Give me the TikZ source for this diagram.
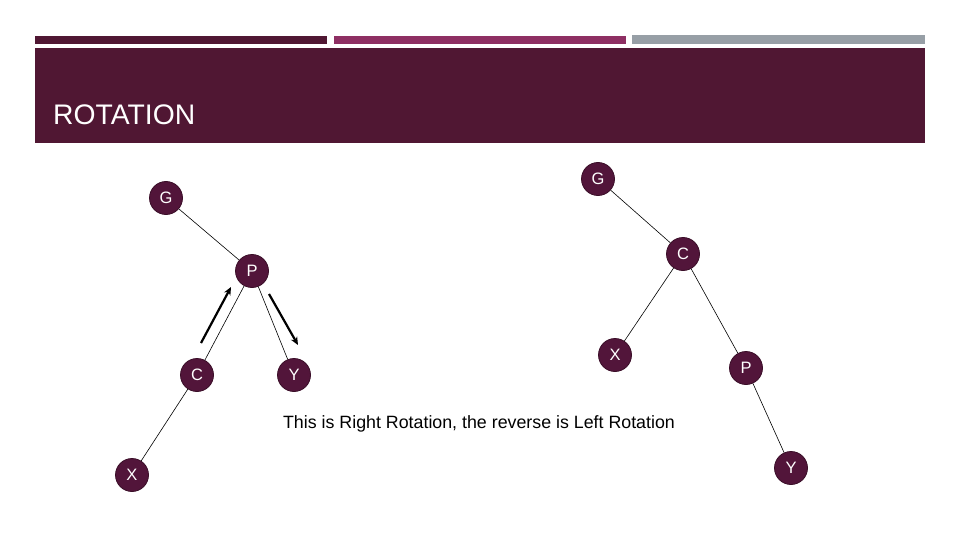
\documentclass[tikz,border=0pt]{standalone}
\usepackage{fontspec}
\setmainfont{Liberation Sans}
\usetikzlibrary{arrows.meta}
\definecolor{maroon}{HTML}{501733}
\definecolor{berry}{HTML}{8E2F63}
\definecolor{greybar}{HTML}{979FA6}
\definecolor{nodefill}{HTML}{52153A}
\definecolor{nodeline}{HTML}{3A0E28}
\begin{document}
\begin{tikzpicture}[x=1pt,y=-1pt,
  tnode/.style={circle,fill=nodefill,draw=nodeline,line width=0.8pt,minimum size=33pt,inner sep=0pt,text=white,font=\fontsize{16.5}{16.5}\selectfont},
  edge/.style={draw=black,line width=0.6pt},
  movearrow/.style={draw=black,line width=2.2pt,-{Stealth[length=8pt,width=7pt]}}]
\useasboundingbox (0,0) rectangle (960,540);
\fill[white] (0,0) rectangle (960,540);
\fill[maroon] (35,36) rectangle (327,44);
\fill[berry] (334,36) rectangle (626,44);
\fill[greybar] (632,35) rectangle (925,44);
\fill[maroon] (35,48) rectangle (925,143);
\node[anchor=base west,text=white,inner sep=0pt,font=\fontsize{28.3}{28.3}\selectfont] (title) at (53,125) {ROTATION};
% left tree
\node[tnode] (lg) at (166,198) {G};
\node[tnode] (lp) at (252,271) {P};
\node[tnode] (lc) at (197,375) {C};
\node[tnode] (ly) at (294,375) {Y};
\node[tnode] (lx) at (132,475) {X};
\draw[edge] (lg) -- (lp);
\draw[edge] (lp) -- (lc);
\draw[edge] (lp) -- (ly);
\draw[edge] (lc) -- (lx);
\coordinate (a1s) at (201,343);
\coordinate (a1e) at (231,287);
\coordinate (a2s) at (269,294);
\coordinate (a2e) at (298,345);
\draw[movearrow] (a1s) -- (a1e);
\draw[movearrow] (a2s) -- (a2e);
% right tree
\node[tnode] (rg) at (598,179) {G};
\node[tnode] (rc) at (683,254) {C};
\node[tnode] (rx) at (615,355) {X};
\node[tnode] (rp) at (746,368) {P};
\node[tnode] (ry) at (791,468) {Y};
\draw[edge] (rg) -- (rc);
\draw[edge] (rc) -- (rx);
\draw[edge] (rc) -- (rp);
\draw[edge] (rp) -- (ry);
\node[font=\fontsize{17.8}{17.8}\selectfont,inner sep=0pt] (caption) at (479,423.5) {This is Right Rotation, the reverse is Left Rotation};
\end{tikzpicture}
\end{document}
